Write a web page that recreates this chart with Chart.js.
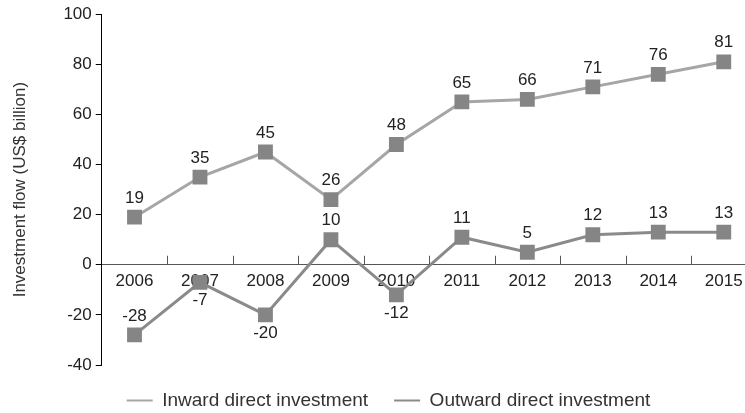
<!DOCTYPE html>
<html lang="en">
<head>
    <meta charset="UTF-8">
    <title>Investment flow</title>
    <style>
        body {
            margin: 0;
            padding: 0;
            background: #ffffff;
            overflow: hidden;
        }

        #wrap {
            width: 767px;
            height: 420px;
        }
    </style>
</head>
<body>
    <div id="wrap">
        <canvas id="flowChart"></canvas>
    </div>

    <script src="https://cdn.jsdelivr.net/npm/chart.js"></script>
    <script>
        // Data
        var years = ['2006', '2007', '2008', '2009', '2010', '2011', '2012', '2013', '2014', '2015'];
        var inward = [19, 35, 45, 26, 48, 65, 66, 71, 76, 81];
        var outward = [-28, -7, -20, 10, -12, 11, 5, 12, 13, 13];
        var yTicks = [-40, -20, 0, 20, 40, 60, 80, 100];

        // which outward labels sit under their marker
        var outwardBelow = [false, true, true, false, true, false, false, false, false, false];

        var font = "'Liberation Sans', Arial, sans-serif";

        // small upward tick marks on the x axis, between the years
        var xTickMarks = {
            id: 'xTickMarks',
            afterDraw: function(chart) {
                var x = chart.scales.x;
                var y = chart.scales.y;
                var ctx = chart.ctx;
                var zero = y.getPixelForValue(0);
                var half = (x.getPixelForValue(1) - x.getPixelForValue(0)) / 2;
                ctx.save();
                ctx.strokeStyle = '#555';
                ctx.lineWidth = 1;
                ctx.beginPath();
                for (var i = 0; i < years.length - 1; i++) {
                    var px = Math.round(x.getPixelForValue(i) + half) + 0.5;
                    ctx.moveTo(px, zero);
                    ctx.lineTo(px, zero - 9);
                }
                ctx.stroke();
                ctx.restore();
            }
        };

        // value labels above (or below) each marker
        var valueLabels = {
            id: 'valueLabels',
            afterDatasetsDraw: function(chart) {
                var ctx = chart.ctx;
                ctx.save();
                ctx.font = '17px ' + font;
                ctx.fillStyle = '#222';
                ctx.textAlign = 'center';
                ctx.textBaseline = 'middle';
                chart.data.datasets.forEach(function(ds, di) {
                    var meta = chart.getDatasetMeta(di);
                    meta.data.forEach(function(pt, i) {
                        var below = di === 1 && outwardBelow[i];
                        ctx.fillText(String(ds.data[i]), pt.x, pt.y + (below ? 18 : -19));
                    });
                });
                ctx.restore();
            }
        };

        var ctx = document.getElementById('flowChart').getContext('2d');
        var myChart = new Chart(ctx, {
            type: 'line',
            data: {
                labels: years,
                datasets: [{
                    label: 'Inward direct investment',
                    data: inward,
                    borderColor: '#a6a6a6',
                    backgroundColor: '#a6a6a6',
                    borderWidth: 3,
                    pointStyle: 'rect',
                    pointRadius: 10.5,
                    pointBackgroundColor: '#858585',
                    pointBorderWidth: 0,
                    tension: 0
                }, {
                    label: 'Outward direct investment',
                    data: outward,
                    borderColor: '#8a8a8a',
                    backgroundColor: '#8a8a8a',
                    borderWidth: 3,
                    pointStyle: 'rect',
                    pointRadius: 10.5,
                    pointBackgroundColor: '#858585',
                    pointBorderWidth: 0,
                    tension: 0
                }]
            },
            options: {
                responsive: true,
                maintainAspectRatio: false,
                animation: false,
                layout: {
                    padding: { top: 6, right: 0, left: 10, bottom: 0 }
                },
                scales: {
                    x: {
                        position: { y: 0 },
                        offset: true,
                        grid: { display: false },
                        border: { display: true, color: '#555', width: 1 },
                        ticks: {
                            padding: -2,
                            color: '#222',
                            font: { family: font, size: 17 },
                            maxRotation: 0,
                            autoSkip: false
                        }
                    },
                    y: {
                        min: -40,
                        max: 100,
                        afterBuildTicks: function(scale) {
                            scale.ticks = yTicks.map(function(v) { return { value: v }; });
                        },
                        grid: {
                            drawOnChartArea: false,
                            drawTicks: true,
                            tickLength: 6,
                            color: '#000'
                        },
                        border: { display: true, color: '#000', width: 1 },
                        ticks: {
                            padding: 4,
                            color: '#222',
                            font: { family: font, size: 17 }
                        },
                        title: {
                            display: true,
                            text: 'Investment flow (US$ billion)',
                            color: '#333',
                            font: { family: font, size: 17 },
                            padding: { top: 0, bottom: 29 }
                        }
                    }
                },
                plugins: {
                    legend: {
                        position: 'bottom',
                        labels: {
                            usePointStyle: true,
                            pointStyle: 'line',
                            pointStyleWidth: 26,
                            color: '#333',
                            font: { family: font, size: 19 },
                            padding: 26,
                            generateLabels: function(chart) {
                                var items = Chart.defaults.plugins.legend.labels.generateLabels(chart);
                                items.forEach(function(item, i) {
                                    item.strokeStyle = chart.data.datasets[i].borderColor;
                                    item.lineWidth = 2;
                                });
                                return items;
                            }
                        }
                    },
                    tooltip: { enabled: false }
                }
            },
            plugins: [xTickMarks, valueLabels]
        });
    </script>
</body>
</html>
